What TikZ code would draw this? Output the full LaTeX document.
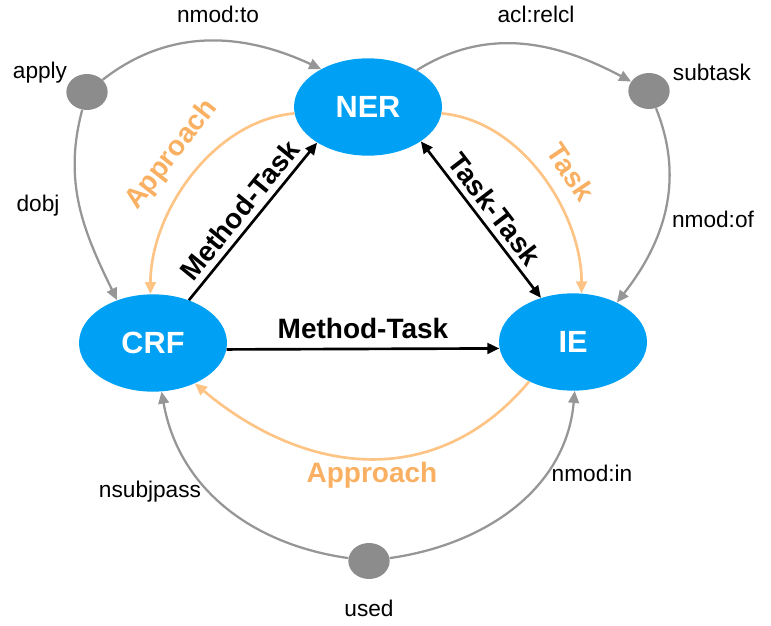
\documentclass[tikz,border=0pt]{standalone}
\usepackage{fontspec}
\setmainfont{Liberation Sans}
\usetikzlibrary{arrows.meta,shapes.geometric}

\definecolor{nodeblue}{RGB}{0,161,245}
\definecolor{dotgray}{RGB}{140,140,140}
\definecolor{depgray}{RGB}{150,150,150}
\definecolor{relorange}{RGB}{253,196,133}
\definecolor{textorange}{RGB}{250,176,98}

\tikzset{
  entity/.style={ellipse, fill=nodeblue, text=white, font=\bfseries\fontsize{23}{23}\selectfont,
                 minimum width=111pt, minimum height=73pt, inner sep=0pt},
  word/.style={ellipse, fill=dotgray, minimum width=31pt, minimum height=27pt, inner sep=0pt},
  deplabel/.style={font=\fontsize{17}{17}\selectfont, text=black},
  dep/.style={draw=depgray, line width=1.7pt, -{Triangle[length=9pt,width=8pt]}},
  relation/.style={draw=relorange, line width=2pt, -{Triangle[length=9pt,width=8pt]}},
  rellabel/.style={font=\bfseries\fontsize{21}{21}\selectfont, text=textorange},
  link/.style={draw=black, line width=2pt},
  linklabel/.style={font=\bfseries\fontsize{21}{21}\selectfont, text=black}
}

\begin{document}
\begin{tikzpicture}[x=0.75pt,y=0.75pt]
  \useasboundingbox (0,0) rectangle (771,625);     % page frame

  % entities
  \node[entity] (ner) at (368,518) {NER};
  \node[entity] (crf) at (153,282) {CRF};
  \node[entity] (ie)  at (573,283) {IE};

  % words of the dependency path
  \node[word] (apply)   at (87,533) {};
  \node[word] (subtask) at (649,534) {};
  \node[word] (used)    at (369,64) {};
  \node[deplabel] (applytxt)   at (40,552)  {apply};
  \node[deplabel] (subtasktxt) at (712,553) {subtask};
  \node[deplabel] (usedtxt)    at (369,17)  {used};

  % dependency edges
  \draw[dep] (apply) to[out=38,in=155] (ner.141);
  \draw[dep] (apply) to[out=255,in=116] (crf.130);
  \draw[dep] (ner.37) to[out=32,in=152] (subtask);
  \draw[dep] (subtask) to[out=292,in=52] (ie.42);
  \draw[dep] (used) to[out=172,in=280] (crf.-80);
  \draw[dep] (used) to[out=8,in=265] (ie.-88);

  \node[deplabel] (nmodto)    at (218,611) {nmod:to};
  \node[deplabel] (aclrelcl)  at (536,611) {acl:relcl};
  \node[deplabel] (dobj)      at (38,419)  {dobj};
  \node[deplabel] (nmodof)    at (713,406) {nmod:of};
  \node[deplabel] (nsubjpass) at (150,133) {nsubjpass};
  \node[deplabel] (nmodin)    at (592,152) {nmod:in};

  % relation edges
  \draw[relation] (ner.185) to[out=185,in=90,looseness=0.9] (crf.93);
  \draw[relation] (ner.-5) to[out=-5,in=90,looseness=0.9] (ie.80);
  \draw[relation] (ie.222) to[out=230,in=-40,looseness=1.1] (crf.-44);

  \node[rellabel, rotate=52]  (approachtop) at (172,470) {Approach};
  \node[rellabel, rotate=-56] (tasklbl)     at (571,453) {Task};
  \node[rellabel]             (approachbot) at (372,150) {Approach};

  % links between entities
  \draw[link, -{Triangle[length=9pt,width=8pt]}] (crf.50) -- node[linklabel, sloped, above=1pt] {Method-Task} (ner.215);
  \draw[link, {Triangle[length=9pt,width=8pt]}-{Triangle[length=9pt,width=8pt]}] (ner.-33) -- node[linklabel, sloped, above=1pt] {Task-Task} (ie.126);
  \draw[link, -{Triangle[length=9pt,width=8pt]}] (crf.-5) -- node[linklabel, above=3pt] {Method-Task} (ie.185);

\end{tikzpicture}
\end{document}
